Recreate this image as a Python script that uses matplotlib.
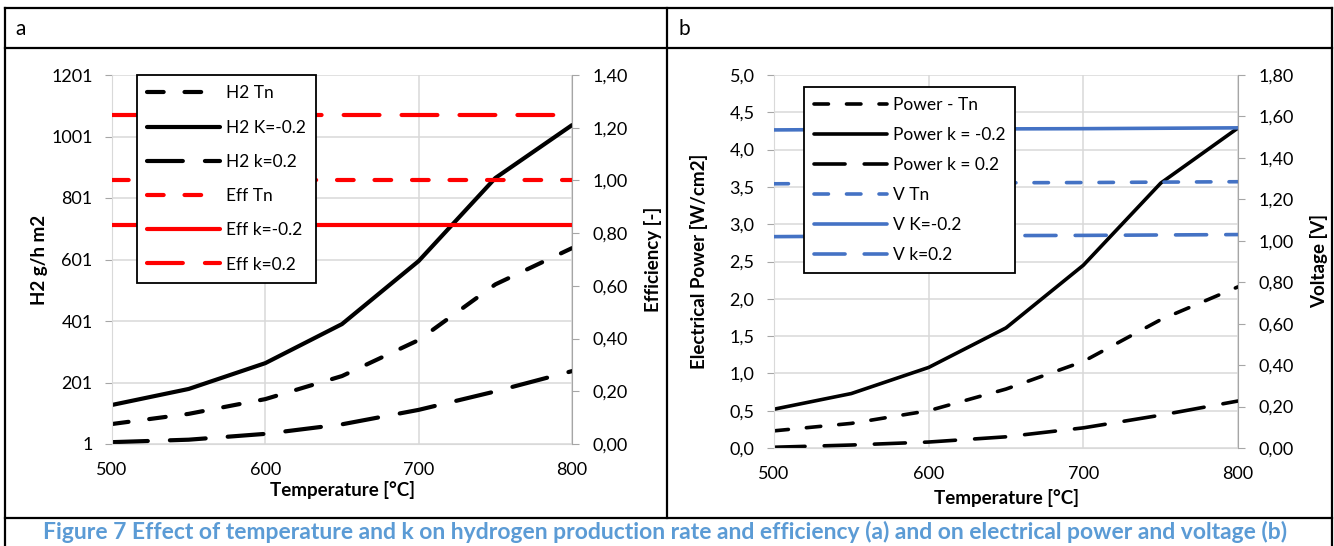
import matplotlib
matplotlib.use("Agg")
import matplotlib.pyplot as plt
from matplotlib.lines import Line2D
from matplotlib.ticker import FuncFormatter

plt.rcParams["font.family"] = ["Lato", "DejaVu Sans"]

# ============================================================
# data
# ============================================================
temps = [500, 550, 600, 650, 700, 750, 800]

# panel a - H2 production [g/h m2]
h2_tn = [66, 99, 147, 222, 339, 520, 638]
h2_km = [128, 180, 264, 391, 596, 866, 1038]
h2_kp = [7, 15, 34, 65, 112, 172, 238]
# panel a - efficiency [-]
eff_tn = [1.00, 1.00, 1.00, 1.00, 1.00, 1.00, 1.00]
eff_km = [0.83, 0.83, 0.83, 0.83, 0.83, 0.83, 0.83]
eff_kp = [1.25, 1.25, 1.25, 1.25, 1.25, 1.25, 1.25]

# panel b - electrical power [W/cm2]
p_tn = [0.23, 0.33, 0.50, 0.79, 1.16, 1.72, 2.16]
p_km = [0.52, 0.73, 1.08, 1.61, 2.45, 3.55, 4.29]
p_kp = [0.01, 0.04, 0.08, 0.15, 0.27, 0.44, 0.63]
# panel b - voltage [V]
v_tn = [1.275, 1.277, 1.279, 1.280, 1.281, 1.283, 1.285]
v_km = [1.535, 1.537, 1.539, 1.540, 1.541, 1.543, 1.545]
v_kp = [1.020, 1.022, 1.024, 1.025, 1.026, 1.028, 1.030]

caption = ("Figure 7 Effect of temperature and k on hydrogen production rate and "
           "efficiency (a) and on electrical power and voltage (b)")

# ============================================================
# style
# ============================================================
W, H = 1334, 546
FS = 13          # tick labels
LFS = 12.5       # legend
BFS = 13.5       # bold axis titles
GRID = "#D9D9D9"
AXC = "#A6A6A6"
RED = "#FF0000"
BLUE = "#4472C4"
SHORT = (4.0, 5.0)
LONG = (8.6, 5.3)


def fx(px):
    return px / W


def fy(py):
    return 1 - py / H


def comma(dec):
    return FuncFormatter(lambda v, p: f"{v:.{dec}f}".replace(".", ","))


def style_axes(ax, twin):
    ax.set_xlim(500, 800)
    ax.set_xticks(temps[::2])
    ax.grid(axis="both", color=GRID, lw=1.1)
    ax.set_axisbelow(True)
    ax.spines["top"].set_visible(False)
    twin.spines["top"].set_visible(False)
    ax.spines["left"].set_color(GRID)
    ax.spines["bottom"].set_color(GRID)
    ax.spines["right"].set_visible(False)
    twin.spines["left"].set_visible(False)
    twin.spines["bottom"].set_visible(False)
    twin.spines["right"].set_color(AXC)
    ax.tick_params(axis="y", length=5, color=AXC, labelsize=FS, pad=9)
    ax.tick_params(axis="x", length=0, labelsize=FS, pad=13)
    twin.tick_params(axis="y", length=5, color=AXC, labelsize=FS, pad=10)
    ax.set_xlabel("Temperature [°C]", fontsize=BFS, fontweight="bold")


fig = plt.figure(figsize=(W / 100, H / 100), dpi=100)

# ============================================================
# panel a
# ============================================================
x0, x1, y0, y1 = 112, 572, 444, 75
ax1 = fig.add_axes([fx(x0), fy(y0), fx(x1 - x0), (y0 - y1) / H])
ax1b = ax1.twinx()
style_axes(ax1, ax1b)
ax1.set_ylim(1, 1201)
ax1.set_yticks([1, 201, 401, 601, 801, 1001, 1201])
ax1b.set_ylim(0, 1.4)
ax1b.set_yticks([0, 0.2, 0.4, 0.6, 0.8, 1.0, 1.2, 1.4])
ax1b.yaxis.set_major_formatter(comma(2))
ax1.set_ylabel("H2 g/h m2", fontsize=BFS, fontweight="bold")
ax1b.set_ylabel("Efficiency [-]", fontsize=BFS, fontweight="bold")
ax1.yaxis.set_label_coords((48 - x0) / (x1 - x0), 0.5)
ax1b.yaxis.set_label_coords((644 - x0) / (x1 - x0), 0.5)
ax1.xaxis.set_label_coords(0.5, -(481 - y0) / (y0 - y1))

la = []
la += ax1.plot(temps, h2_tn, color="black", lw=3, dashes=SHORT, label="H2 Tn")
la += ax1.plot(temps, h2_km, color="black", lw=3, label="H2 K=-0.2")
la += ax1.plot(temps, h2_kp, color="black", lw=3, dashes=LONG, label="H2 k=0.2")
la += ax1b.plot(temps, eff_tn, color=RED, lw=3, dashes=SHORT, label="Eff Tn")
la += ax1b.plot(temps, eff_km, color=RED, lw=3, label="Eff k=-0.2")
la += ax1b.plot(temps, eff_kp, color=RED, lw=3, dashes=LONG, label="Eff k=0.2")
for l in la:
    l.set_solid_capstyle("round")
    l.set_dash_capstyle("round")

# ============================================================
# panel b
# ============================================================
x0, x1, y0, y1 = 774, 1238, 448, 75
ax2 = fig.add_axes([fx(x0), fy(y0), fx(x1 - x0), (y0 - y1) / H])
ax2b = ax2.twinx()
style_axes(ax2, ax2b)
ax2.set_ylim(0, 5)
ax2.set_yticks([0, 0.5, 1, 1.5, 2, 2.5, 3, 3.5, 4, 4.5, 5])
ax2.yaxis.set_major_formatter(comma(1))
ax2b.set_ylim(0, 1.8)
ax2b.set_yticks([0, 0.2, 0.4, 0.6, 0.8, 1.0, 1.2, 1.4, 1.6, 1.8])
ax2b.yaxis.set_major_formatter(comma(2))
ax2.set_ylabel("Electrical Power [W/cm2]", fontsize=BFS, fontweight="bold")
ax2b.set_ylabel("Voltage [V]", fontsize=BFS, fontweight="bold")
ax2.yaxis.set_label_coords((708 - x0) / (x1 - x0), 0.5)
ax2b.yaxis.set_label_coords((1310 - x0) / (x1 - x0), 0.5)
ax2.xaxis.set_label_coords(0.5, -(489 - y0) / (y0 - y1))

lb = []
lb += ax2.plot(temps, p_tn, color="black", lw=2.6, dashes=SHORT, label="Power - Tn")
lb += ax2.plot(temps, p_km, color="black", lw=2.6, label="Power k = -0.2")
lb += ax2.plot(temps, p_kp, color="black", lw=2.6, dashes=LONG, label="Power k = 0.2")
lb += ax2b.plot(temps, v_tn, color=BLUE, lw=2.6, dashes=SHORT, label="V Tn")
lb += ax2b.plot(temps, v_km, color=BLUE, lw=2.6, label="V K=-0.2")
lb += ax2b.plot(temps, v_kp, color=BLUE, lw=2.6, dashes=LONG, label="V k=0.2")
for l in lb:
    l.set_solid_capstyle("round")
    l.set_dash_capstyle("round")

# legends
for handles, anchor, sp in [(la, (fx(137), fy(75)), 1.05), (lb, (fx(804), fy(87)), 0.8)]:
    leg = fig.legend(handles=handles, loc="upper left", bbox_to_anchor=anchor,
                     borderaxespad=0, fontsize=LFS, handlelength=4.2,
                     labelspacing=sp, handletextpad=0.3, borderpad=0.6,
                     fancybox=False, framealpha=1, edgecolor="black")
    leg.get_frame().set_linewidth(1.3)

# ============================================================
# table frame, headers and caption
# ============================================================
def hline(y, xa=5, xb=1332):
    fig.add_artist(Line2D([fx(xa), fx(xb)], [fy(y), fy(y)], color="black", lw=1.6))


def vline(x, ya, yb):
    fig.add_artist(Line2D([fx(x), fx(x)], [fy(ya), fy(yb)], color="black", lw=1.6))


hline(8)
hline(48)
hline(518)
vline(5, 8, 546)
vline(1332, 8, 546)
vline(667, 8, 518)

fig.text(fx(15), fy(29), "a", fontsize=15, va="center", ha="left")
fig.text(fx(679), fy(29), "b", fontsize=15, va="center", ha="left")
fig.text(fx(665), fy(532), caption, fontsize=16.5, fontweight="bold",
         color="#5B9BD5", ha="center", va="center")

fig.savefig("out.png", dpi=100)
